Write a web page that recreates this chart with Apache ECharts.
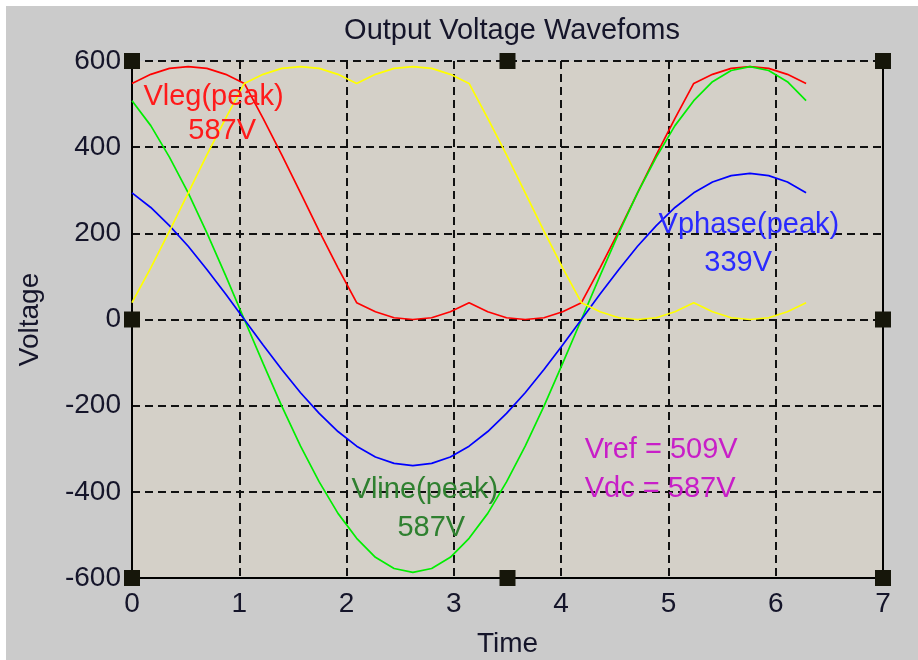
<!DOCTYPE html>
<html>
<head>
<meta charset="utf-8">
<title>Output Voltage Wavefoms</title>
<script src="https://cdn.jsdelivr.net/npm/echarts@6/dist/echarts.min.js"></script>
<style>
  html, body { margin: 0; padding: 0; background: #ffffff; }
  #chart { width: 918px; height: 660px; }
</style>
</head>
<body>
<div id="chart"></div>
<script>
// time samples (rad) and the four waveforms
const time = [0, 0.175, 0.349, 0.524, 0.698, 0.873, 1.047, 1.222, 1.396, 1.571, 1.745, 1.920, 2.094,
  2.269, 2.443, 2.618, 2.793, 2.967, 3.142, 3.316, 3.491, 3.665, 3.840, 4.014, 4.189, 4.363, 4.538,
  4.712, 4.887, 5.061, 5.236, 5.411, 5.585, 5.760, 5.934, 6.109, 6.283]
const vLegA = [548, 569, 583, 587, 583, 569, 548, 467, 382, 294, 205, 120, 39, 18, 4, 0, 4, 18, 39,
  18, 4, 0, 4, 18, 39, 120, 205, 294, 382, 467, 548, 569, 583, 587, 583, 569, 548]
const vLegB = [39, 120, 205, 294, 382, 467, 548, 569, 583, 587, 583, 569, 548, 569, 583, 587, 583, 569, 548,
  467, 382, 294, 205, 120, 39, 18, 4, 0, 4, 18, 39, 18, 4, 0, 4, 18, 39]
const vLine = [508, 450, 377, 294, 201, 102, 0, -102, -201, -294, -377, -450, -508, -552, -578, -587, -578,
  -552, -508, -450, -377, -294, -201, -102, 0, 102, 201, 294, 377, 450, 508, 552, 578, 587, 578, 552, 508]
const vPhase = [294, 260, 218, 170, 116, 59, 0, -59, -116, -170, -218, -260, -294, -319, -334, -339, -334,
  -319, -294, -260, -218, -170, -116, -59, 0, 59, 116, 170, 218, 260, 294, 319, 334, 339, 334, 319, 294]

// annotation texts and their anchors in data units
const noteText = ['Vleg(peak)', '587V', 'Vphase(peak)', '339V', 'Vline(peak)', '587V', 'Vref = 509V', 'Vdc = 587V']
const noteX = [0.76, 0.84, 5.75, 5.65, 2.73, 2.79, 4.22, 4.22]
const noteY = [516, 437, 219, 130, -395, -484, -302, -393]

// selection handles round the plot
const handleX = [0, 3.5, 7, 0, 7, 0, 3.5, 7]
const handleY = [600, 600, 600, 0, 0, -600, -600, -600]

const FONT = "'Liberation Sans', Arial, sans-serif"
const noteColor = ['#ff1a1a', '#ff1a1a', '#2a2aff', '#2a2aff', '#2f8030', '#2f8030', '#c81ec8', '#c81ec8']

const pairs = (ys) => time.map((t, i) => [t, ys[i]])

function lineSeries(name, ys, color) {
  return {
    name: name,
    type: 'line',
    data: pairs(ys),
    showSymbol: false,
    animation: false,
    lineStyle: { color: color, width: 1.7 },
    itemStyle: { color: color }
  }
}

const chart = echarts.init(document.getElementById('chart'))

chart.setOption({
  backgroundColor: '#cbcbcb',
  animation: false,
  textStyle: { fontFamily: FONT },
  title: {
    text: 'Output Voltage Wavefoms',
    left: 507,
    top: 11,
    textAlign: 'center',
    textStyle: { fontFamily: FONT, fontSize: 29, fontWeight: 'normal', color: '#15152a' }
  },
  graphic: [
    { type: 'rect', shape: { x: 0, y: 0, width: 918, height: 6 }, style: { fill: '#ffffff' }, silent: true },
    { type: 'rect', shape: { x: 0, y: 0, width: 6, height: 660 }, style: { fill: '#ffffff' }, silent: true }
  ],
  grid: {
    left: 132,
    right: 35,
    top: 61,
    bottom: 82,
    outerBoundsMode: 'none',
    containLabel: false,
    show: true,
    backgroundColor: '#d4d0c8',
    borderWidth: 0
  },
  xAxis: {
    type: 'value',
    min: 0,
    max: 7,
    interval: 1,
    name: 'Time',
    nameLocation: 'middle',
    nameGap: 52,
    nameTextStyle: { fontFamily: FONT, fontSize: 28, color: '#15152a' },
    axisLine: { show: true, onZero: false, lineStyle: { color: '#000', width: 2 } },
    axisTick: { show: false },
    axisLabel: { fontFamily: FONT, fontSize: 28, color: '#15152a', margin: 12 },
    splitLine: { show: true, lineStyle: { color: '#111', width: 2, type: [8, 5] } }
  },
  yAxis: [{
    type: 'value',
    min: -600,
    max: 600,
    interval: 200,
    name: 'Voltage',
    nameLocation: 'middle',
    nameGap: 88,
    nameTextStyle: { fontFamily: FONT, fontSize: 28, color: '#15152a' },
    axisLine: { show: true, onZero: false, lineStyle: { color: '#000', width: 2 } },
    axisTick: { show: false },
    axisLabel: { fontFamily: FONT, fontSize: 28, color: '#15152a', margin: 11 },
    splitLine: { show: true, lineStyle: { color: '#111', width: 2, type: [8, 5] } }
  }, {
    type: 'value',
    position: 'right',
    min: -600,
    max: 600,
    axisLine: { show: true, onZero: false, lineStyle: { color: '#000', width: 2 } },
    axisTick: { show: false },
    axisLabel: { show: false },
    splitLine: { show: false }
  }],
  series: [
    lineSeries('Vleg A', vLegA, '#ff0000'),
    lineSeries('Vline', vLine, '#00ee00'),
    lineSeries('Vphase', vPhase, '#0000ff'),
    lineSeries('Vleg B', vLegB, '#ffff00'),
    {
      name: 'notes',
      type: 'scatter',
      symbolSize: 0,
      silent: true,
      z: 5,
      itemStyle: { opacity: 1 },
      data: noteText.map((txt, i) => ({
        value: [noteX[i], noteY[i]],
        label: {
          show: true,
          position: 'inside',
          formatter: txt,
          align: i >= 6 ? 'left' : 'center',
          verticalAlign: 'middle',
          fontFamily: FONT,
          fontSize: 29,
          opacity: 1,
          color: noteColor[i]
        }
      }))
    },
    {
      name: 'handles',
      type: 'scatter',
      symbol: 'rect',
      symbolSize: 16,
      clip: false,
      silent: true,
      z: 6,
      itemStyle: { color: '#16160a', opacity: 1 },
      data: handleX.map((x, i) => [x, handleY[i]])
    }
  ]
})
</script>
</body>
</html>
